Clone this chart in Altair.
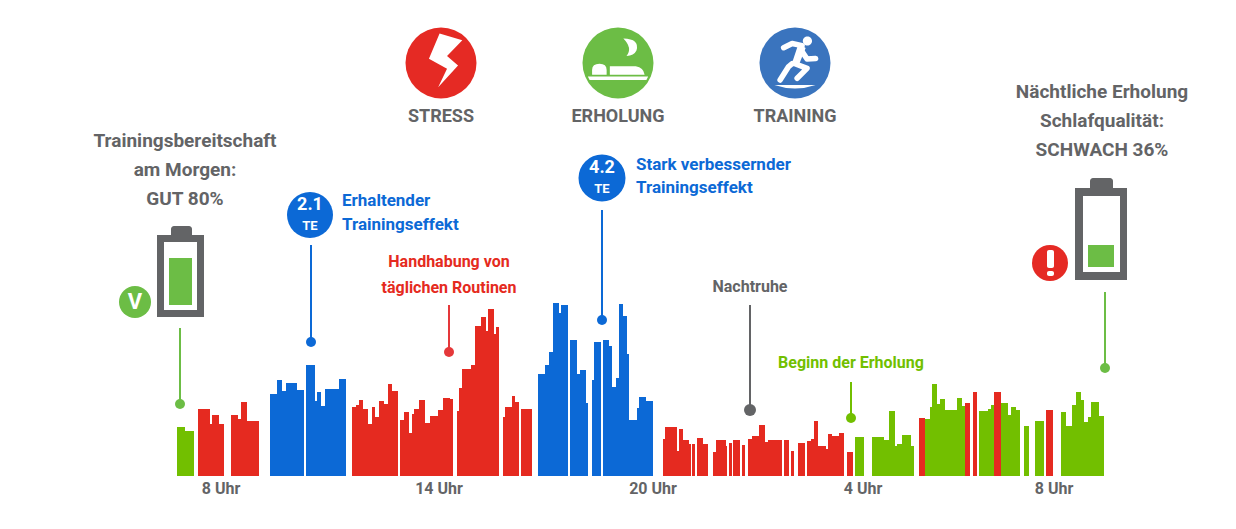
import altair as alt
import pandas as pd

W, H = 1220, 505
BASE = 476  # picture row of the bar baseline

RED, BLUE, GREEN = "#E52A20", "#0C69D6", "#72BF00"
IRED, IBLUE, IGREEN = "#E52A24", "#3A74BE", "#6CBD45"
GRAY = "#636466"
FONT = "Roboto"

bar_start = [177,185,198.3,210,212.3,218.7,230.7,238.3,240.7,247.3,
    269.7,277.3,282.3,285.7,296.7,306.3,315,317.3,321,325,339,
    351.7,355.7,358.7,363.3,368,372,375.3,379.3,384,387.7,392.3,
    400,404,409.3,411.7,414.3,419.3,425,430,438,443,449.7,
    456.7,458.7,462,470.7,475.3,481.3,486,488,493.7,495.7,
    502.7,505.3,511.7,515.3,521,
    538.3,544.7,549.3,553,558.7,561,570,577.3,580,585.7,591.7,594,
    602.7,609,612.3,615.7,619,623.3,626.7,629.3,636.7,639.3,646,
    662.7,665.3,676.7,679,683,689,691.7,696.7,703.3,
    713.3,716.3,725.7,728.7,733.3,742.3,748,752,759,765.3,768,784,790.7,797.7,
    807,811,813.7,818.3,825.7,828,832.3,839.3,846.7,
    854.7,872,884.5,889,895,897.3,902.3,911,
    919.3,924.7,930.3,931.7,936.7,940,944.7,957.3,962,965,972.7,978.7,987.7,991.3,994.3,
    1001,1008.3,1010.7,1015.7,1024,1035.3,1046,
    1061.3,1066,1072.3,1076.3,1080.7,1084,1087.7,1090.7,1098.7]
bar_end = [185,193.7,210,212.3,218.7,224,238.3,240.7,247.3,258.7,
    277.3,282.3,285.7,296.7,304.3,315,317.3,321,325,339,346.3,
    355.7,358.7,363.3,368,372,375.3,379.3,384,387.7,392.3,398.3,
    404,409.3,411.7,414.3,419.3,425,430,438,443,449.7,452.7,
    458.7,462,470.7,475.3,481.3,486,488,493.7,495.7,499,
    505.3,511.7,515.3,519.3,532.3,
    544.7,549.3,553,558.7,561,568.3,577.3,580,585.7,587.7,594,600.7,
    609,612.3,615.7,619,623.3,626.7,629.3,636.7,639.3,646,653.3,
    665.3,676.7,679,683,689,690.7,695,703.3,708,
    716.3,725.7,727,732,740.3,745.3,752,759,765.3,768,782.3,789.3,794,805,
    811,813.7,818.3,825.7,828,832.3,839.3,844.3,852.7,
    864,884.5,889,895,897.3,902.3,911,914.3,
    924.7,930.3,931.7,936.7,940,944.7,957.3,962,965,970.3,977,987.7,991.3,994.3,1001,
    1008.3,1010.7,1015.7,1020,1029,1043.7,1052.7,
    1066,1072.3,1076.3,1080.7,1084,1087.7,1090.7,1098.7,1104]
bar_height = [49,45,67,52,61,52,61,57,74,55,
    82,96,85,93,86,111,75,84,70,87,97,
    69,71,76,67,52,69,59,75,72,92,85,
    56,64,43,62,67,76,53,60,66,78,77,
    65,88,107,111,150,159,145,167,142,149,
    59,69,80,74,67,
    102,111,124,173,163,171,136,102,106,73,96,134,
    136,130,89,98,172,160,122,56,68,79,75,
    37,49,25,47,36,32,32,38,32,
    24,36,30,33,36,31,37,40,51,34,36,36,25,33,
    35,37,55,30,27,42,40,43,24,
    39,39,36,65,30,32,41,30,
    58,57,69,92,72,77,66,78,70,73,84,65,67,71,84,
    73,61,69,66,50,55,66,
    64,50,71,84,76,54,59,74,60]
# one letter per run of bars: G green, R red, B blue
bar_runs = [("G",2),("R",8),("B",11),("R",37),("B",23),("R",32),("G",8),
    ("R",1),("G",8),("R",2),("G",3),("R",1),("G",6),("R",1),("G",9)]

kinds = []
for k, n in bar_runs:
    kinds += [k] * n
bars = pd.DataFrame({"x": bar_start, "x2": bar_end, "h": bar_height, "k": kinds, "y0": 0})

# leader lines: x, top row, dot row, dot diameter, colour
leaders = [(180,328,404,10,IGREEN),(310.5,245,341.7,10,BLUE),(449.4,305,351.7,10,"#E5383A"),
           (602,210,319.7,10,BLUE),(749.6,305,409.7,12,GRAY),(851,381.5,418.3,10,GREEN),
           (1104.5,292,368,10,IGREEN)]
# round badges: x, row, diameter, colour
discs = [(441.3,62.7,71,IRED),(618,62.7,71,IGREEN),(794.7,62.7,71,IBLUE),
         (310,215,46,BLUE),(601.5,178,47,BLUE),(135,301.7,32,IGREEN),(1050,263.3,36,IRED)]
# plain rectangles (battery bodies): x, x2, row, row2, colour
rects = [(157,204,235,317,GRAY),(164,197,242,310,"#ffffff"),(169,192,258,305,IGREEN),
         (1075,1127,188,280,GRAY),(1083,1120,196,272,"#ffffff"),(1088,1114,245,267,IGREEN)]
# rounded: caps and exclamation mark
rounded = [(171,192,226,240,GRAY),(1090,1113,178,194,GRAY),
           (1046.5,1053.5,250,268,"#ffffff"),(1046.5,1053.5,270.5,276,"#ffffff")]

centred = [("STRESS",441,117,18,GRAY),("ERHOLUNG",618,117,18,GRAY),("TRAINING",794.5,117,18,GRAY),
    ("Trainingsbereitschaft",185,141,19,GRAY),("am Morgen:",185,170,19,GRAY),("GUT 80%",185,199,19,GRAY),
    ("Nächtliche Erholung",1102,92,19,GRAY),("Schlafqualität:",1102,121,19,GRAY),("SCHWACH 36%",1102,150,19,GRAY),
    ("Handhabung von",449,262,16,RED),("täglichen Routinen",449,288,16,RED),
    ("Nachtruhe",750,287,16,GRAY),("Beginn der Erholung",851,363,16,GREEN),
    ("8 Uhr",221,489,16,GRAY),("14 Uhr",439,489,16,GRAY),("20 Uhr",653,489,16,GRAY),
    ("4 Uhr",863,489,16,GRAY),("8 Uhr",1054,489,16,GRAY),
    ("2.1",310,205,18,"#ffffff"),("TE",310,226,13,"#ffffff"),
    ("4.2",601.5,168,18,"#ffffff"),("TE",601.5,189,13,"#ffffff"),("V",135,301.7,22,"#ffffff")]
lefts = [("Erhaltender",342,201,17,BLUE),("Trainingseffekt",342,225,17,BLUE),
         ("Stark verbessernder",636,165,17,BLUE),("Trainingseffekt",636,188,17,BLUE)]

# icon glyphs, drawn inside a unit circle
glyphs = [
 (441.3,"M-0.04,-0.83L0.6,-0.64L0.17,-0.2L0.48,0.07L-0.08,0.68L0.17,0.16L-0.34,-0.12Z",True),
 (618,"M0.15,-0.69Q0.62,-0.68 0.52,-0.35Q0.45,-0.2 0.24,-0.2Q0.42,-0.42 0.15,-0.69Z"
      "M-0.73,0.33L-0.73,0.2Q-0.73,0.02 -0.52,0.02Q-0.32,0.02 -0.32,0.2L-0.32,0.33Z"
      "M-0.23,0.33L-0.23,0.09L0.5,0.09Q0.72,0.12 0.75,0.33Z"
      "M-0.85,0.38L0.85,0.38L0.8,0.48L-0.8,0.48Z",True),
 (794.7,"M-0.58,0.62L0.58,0.62Q0,0.82 -0.58,0.62Z"
      "M0.48,-0.62A0.13,0.13 0 1 1 0.22,-0.62A0.13,0.13 0 1 1 0.48,-0.62Z"
      "M0.1,-0.55L0.3,-0.42L0.1,0.08L-0.1,0.05Z",True),
 (794.7,"M-0.32,-0.43L-0.08,-0.55L0.2,-0.49"
      "M0.2,-0.32L0.34,-0.11L0.58,-0.13M0,0.02L0.34,0.15L0.06,0.43M-0.08,0.02L-0.18,0.1L-0.42,0.48",False),
]

xs = alt.Scale(domain=[8, 8 + W], range=[0, W], nice=False, zero=False, round=True)
ys = alt.Scale(domain=[BASE - (8 + H), BASE - 8], range=[H, 0], nice=False, zero=False, round=True)
X = lambda f: alt.X(f, type="quantitative", scale=xs, axis=None)
Y = lambda f: alt.Y(f, type="quantitative", scale=ys, axis=None)
col = alt.Color("c:N", scale=None, legend=None)
up = lambda r: BASE - r

bar_layer = alt.Chart(bars).mark_rect().encode(
    x=X("x"), x2="x2", y=Y("y0"), y2="h",
    color=alt.Color("k:N", scale=alt.Scale(domain=["R", "B", "G"], range=[RED, BLUE, GREEN]), legend=None),
)

def rect_layer(rows, **kw):
    df = pd.DataFrame([dict(x=a, x2=b, y=up(c), y2=up(d), c=e) for a, b, c, d, e in rows])
    return alt.Chart(df).mark_rect(**kw).encode(x=X("x"), x2="x2", y=Y("y"), y2="y2", color=col)

lead_df = pd.DataFrame([dict(x=a, top=up(b), dot=up(c), d=d * d, c=e) for a, b, c, d, e in leaders])
lead_rule = alt.Chart(lead_df).mark_rule(strokeWidth=2).encode(x=X("x"), y=Y("top"), y2="dot", color=col)
lead_dot = alt.Chart(lead_df).mark_circle(opacity=1).encode(
    x=X("x"), y=Y("dot"), color=col, size=alt.Size("d:Q", scale=None, legend=None))

disc_df = pd.DataFrame([dict(x=a, y=up(b), d=c * c, c=e) for a, b, c, e in discs])
disc_layer = alt.Chart(disc_df).mark_circle(opacity=1).encode(
    x=X("x"), y=Y("y"), color=col, size=alt.Size("d:Q", scale=None, legend=None))

def text_layer(rows, align):
    df = pd.DataFrame([dict(t=a, x=b, y=up(c), s=d, c=e) for a, b, c, d, e in rows])
    return alt.Chart(df).mark_text(align=align, baseline="middle", font=FONT, fontWeight="bold").encode(
        x=X("x"), y=Y("y"), text="t:N", color=col, size=alt.Size("s:Q", scale=None, legend=None))

glyph_layers = []
for gx, path, filled in glyphs:
    df = pd.DataFrame([{"x": gx, "y": up(62.7)}])
    kw = dict(shape=path, size=71 * 71, opacity=1)
    if filled:
        kw.update(filled=True, fill="#ffffff", strokeWidth=0)
    else:
        kw.update(filled=False, stroke="#ffffff", strokeWidth=5.5, strokeCap="round", strokeJoin="round")
    glyph_layers.append(alt.Chart(df).mark_point(**kw).encode(x=X("x"), y=Y("y")))

chart = alt.layer(
    bar_layer, lead_rule, lead_dot, rect_layer(rounded[:2], cornerRadius=3), rect_layer(rects),
    disc_layer, rect_layer(rounded[2:], cornerRadius=2), *glyph_layers,
    text_layer(centred, "center"), text_layer(lefts, "left"),
).properties(width=W, height=H, padding=0, autosize="none", background="#ffffff").configure_view(strokeWidth=0)

chart.save("out.html", embed_options={"renderer": "svg", "actions": False})
